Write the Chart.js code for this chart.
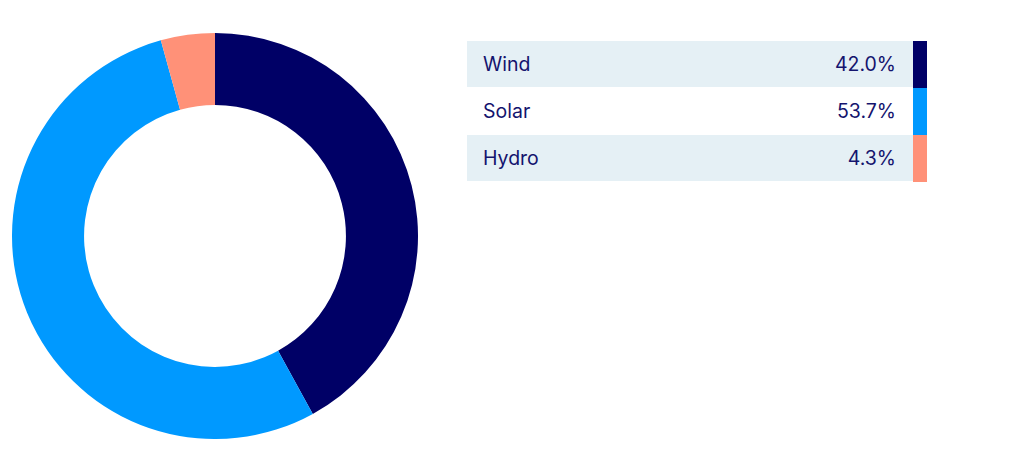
<!DOCTYPE html>
<html>
<head>
<meta charset="utf-8">
<script src="https://cdn.jsdelivr.net/npm/chart.js@4/dist/chart.umd.min.js"></script>
<style>
  html, body { margin: 0; padding: 0; background: #fff; }
  body { width: 1032px; height: 471px; position: relative; overflow: hidden; font-family: Inter, Roboto, sans-serif; }
  #donutWrap { position: absolute; left: 12px; top: 33px; width: 406px; height: 406px; }
  #legend { position: absolute; left: 467px; top: 40px; width: 460px; border-collapse: collapse; }
  #legend td { padding: 0; height: 47px; box-sizing: border-box; font-size: 19.5px; color: #14146e; }
  #legend td.name { padding-left: 16px; }
  #legend td.pct { text-align: right; padding-right: 17px; }
  #legend td.swatch { width: 14px; }
  #legend tr.shade td.name, #legend tr.shade td.pct { background: #e5f0f5; border-top: 1px solid #fff; border-bottom: 1px solid #fff; }
</style>
</head>
<body>
<div id="donutWrap"><canvas id="donutChart" width="406" height="406"></canvas></div>
<table id="legend"></table>
<script>
const labels = ['Wind', 'Solar', 'Hydro'];
const shares = [42.0, 53.7, 4.3];
const colours = ['#000066', '#0099ff', '#ff9178'];

// legend table next to the donut
const table = document.getElementById('legend');
labels.forEach((name, i) => {
    const row = document.createElement('tr');
    if (i % 2 === 0) row.className = 'shade';
    row.innerHTML = `<td class="name">${name}</td><td class="pct">${shares[i].toFixed(1)}%</td><td class="swatch" style="background:${colours[i]}"></td>`;
    table.appendChild(row);
});

const ctx = document.getElementById('donutChart').getContext('2d');
const donut = new Chart(ctx, {
    type: 'doughnut',
    data: {
        labels: labels,
        datasets: [{
            data: shares,
            backgroundColor: colours,
            borderWidth: 0,
        }]
    },
    options: {
        responsive: false,
        animation: false,
        cutout: '64.5%',
        layout: { padding: 0 },
        plugins: {
            legend: { display: false },
            tooltip: { enabled: false }
        }
    }
});
</script>
</body>
</html>
